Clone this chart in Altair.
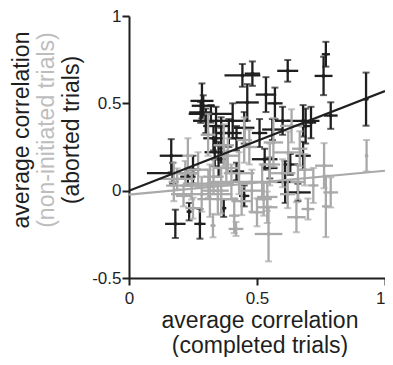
import altair as alt
import pandas as pd

# ---- data ----
black_x = [0.926, 0.788, 0.769, 0.760, 0.620, 0.443, 0.482, 0.462, 0.535, 0.570,
           0.285, 0.290, 0.280, 0.340, 0.320, 0.165, 0.181, 0.277, 0.170, 0.230,
           0.335, 0.330, 0.405, 0.510, 0.680, 0.690, 0.711, 0.680, 0.530, 0.610,
           0.660, 0.450, 0.370, 0.235, 0.360, 0.390, 0.450, 0.550, 0.420,
           0.300, 0.360, 0.420, 0.560, 0.600, 0.250, 0.350, 0.630]
black_y = [0.524, 0.430, 0.781, 0.657, 0.686, 0.660, 0.670, 0.505, 0.550, 0.500,
           0.514, 0.486, 0.448, 0.370, 0.440, 0.200, -0.190, -0.190, 0.100, 0.080,
           0.220, 0.300, 0.400, 0.330, 0.400, 0.370, 0.390, 0.200, 0.180, 0.050,
           -0.010, -0.030, -0.100, -0.120, 0.260, 0.330, 0.360, 0.130, 0.110,
           0.400, 0.330, 0.300, 0.350, 0.400, 0.120, 0.180, 0.150]
black_xerr = [0.010, 0.027, 0.016, 0.035, 0.041, 0.070, 0.030, 0.045, 0.040, 0.030,
              0.045, 0.045, 0.045, 0.050, 0.087, 0.045, 0.040, 0.022, 0.100, 0.030,
              0.040, 0.040, 0.060, 0.030, 0.064, 0.025, 0.020, 0.030, 0.050, 0.040,
              0.050, 0.020, 0.010, 0.010, 0.030, 0.050, 0.040, 0.030, 0.030,
              0.050, 0.020, 0.030, 0.040, 0.030, 0.030, 0.030, 0.030]
black_yerr = [0.152, 0.076, 0.071, 0.110, 0.062, 0.065, 0.070, 0.105, 0.100, 0.090,
              0.100, 0.060, 0.060, 0.110, 0.050, 0.095, 0.081, 0.085, 0.060, 0.050,
              0.080, 0.070, 0.100, 0.080, 0.090, 0.100, 0.090, 0.080, 0.060, 0.120,
              0.050, 0.060, 0.050, 0.050, 0.100, 0.080, 0.090, 0.060, 0.050,
              0.070, 0.090, 0.070, 0.060, 0.080, 0.080, 0.100, 0.060]

gray_x = [0.928, 0.762, 0.788, 0.769, 0.699, 0.654, 0.545, 0.418, 0.328, 0.635,
          0.564, 0.622, 0.450, 0.470, 0.309, 0.386, 0.188, 0.245, 0.284, 0.347,
          0.175, 0.526, 0.500, 0.411, 0.360, 0.316, 0.520, 0.540, 0.540, 0.720,
          0.686, 0.667, 0.250, 0.213, 0.430, 0.600, 0.270, 0.380, 0.480, 0.620,
          0.220, 0.330, 0.400, 0.310, 0.550, 0.440, 0.660, 0.230, 0.370]
gray_y = [0.200, 0.143, -0.010, -0.090, -0.105, -0.152, -0.248, -0.219, -0.200, 0.371,
          0.276, 0.219, 0.290, 0.250, 0.320, 0.200, 0.067, 0.029, -0.020, -0.048,
          0.050, -0.048, -0.124, -0.143, 0.000, 0.000, 0.050, -0.036, -0.095, 0.030,
          0.120, 0.240, -0.100, -0.030, 0.100, 0.100, 0.120, 0.130, 0.000, -0.020,
          0.100, 0.080, 0.050, 0.040, 0.150, -0.060, 0.050, 0.200, 0.260]
gray_xerr = [0.005, 0.035, 0.029, 0.015, 0.025, 0.036, 0.054, 0.029, 0.010, 0.045,
             0.038, 0.057, 0.030, 0.030, 0.029, 0.040, 0.070, 0.100, 0.120, 0.080,
             0.020, 0.032, 0.030, 0.020, 0.030, 0.030, 0.060, 0.040, 0.040, 0.020,
             0.030, 0.030, 0.030, 0.030, 0.060, 0.050, 0.040, 0.050, 0.050, 0.030,
             0.050, 0.040, 0.080, 0.100, 0.040, 0.040, 0.030, 0.020, 0.040]
gray_yerr = [0.090, 0.129, 0.086, 0.176, 0.060, 0.086, 0.157, 0.040, 0.067, 0.095,
             0.140, 0.120, 0.130, 0.100, 0.120, 0.100, 0.060, 0.080, 0.100, 0.090,
             0.110, 0.095, 0.080, 0.100, 0.130, 0.150, 0.100, 0.080, 0.090, 0.100,
             0.090, 0.100, 0.060, 0.060, 0.120, 0.080, 0.100, 0.100, 0.120, 0.080,
             0.070, 0.100, 0.100, 0.080, 0.120, 0.080, 0.100, 0.100, 0.120]

fit_x = [0.0, 1.0]
black_fit = [0.0, 0.57]
gray_fit = [-0.023, 0.114]

x_ticks = [0, 0.5, 1]
y_ticks = [-0.5, 0, 0.5, 1]
y_title_lines = ["average correlation", "(non-initiated trials)", "(aborted trials)"]
x_title_lines = ["average correlation", "(completed trials)"]

INK = "#1f1f1f"
GRAY = "#a9a9a9"
TITLE_GRAY = "#bdbdbd"
FONT = "Liberation Sans"


def frame(xs, ys, xe, ye):
    return pd.DataFrame({
        "x": xs, "y": ys,
        "xlo": [a - b for a, b in zip(xs, xe)],
        "xhi": [a + b for a, b in zip(xs, xe)],
        "ylo": [a - b for a, b in zip(ys, ye)],
        "yhi": [a + b for a, b in zip(ys, ye)],
    })


xscale = alt.Scale(domain=[0, 1], nice=False, zero=False)
yscale = alt.Scale(domain=[-0.5, 1], nice=False, zero=False)
common_axis = dict(title=None, grid=False, domainColor=INK, domainWidth=2,
                   tickColor=INK, tickWidth=2, tickSize=7, labelFontSize=17,
                   labelColor=INK, labelFont=FONT, labelExpr="toString(datum.value)",
                   labelFlush=False, labelOverlap=False)
xaxis = alt.Axis(values=x_ticks, labelPadding=5,
                 labelAlign={"condition": {"test": "datum.value == 1", "value": "right"},
                             "value": "center"},
                 **common_axis)
yaxis = alt.Axis(values=y_ticks, labelPadding=1, **common_axis)


def X(f):
    return alt.X(f, type="quantitative", scale=xscale, axis=xaxis)


def Y(f):
    return alt.Y(f, type="quantitative", scale=yscale, axis=yaxis)


def crosses(df, color):
    base = alt.Chart(df)
    h = base.mark_rule(color=color, strokeWidth=2.3).encode(x=X("xlo"), x2="xhi", y=Y("y"))
    v = base.mark_rule(color=color, strokeWidth=2.3).encode(x=X("x"), y=Y("ylo"), y2="yhi")
    lo = base.mark_tick(color=color, orient="horizontal", size=7, thickness=2).encode(x=X("x"), y=Y("ylo"))
    hi = base.mark_tick(color=color, orient="horizontal", size=7, thickness=2).encode(x=X("x"), y=Y("yhi"))
    dot = base.mark_circle(color=color, size=14, opacity=1).encode(x=X("x"), y=Y("y"))
    return [h, v, lo, hi, dot]


black_df = frame(black_x, black_y, black_xerr, black_yerr)
gray_df = frame(gray_x, gray_y, gray_xerr, gray_yerr)

fit_black = alt.Chart(pd.DataFrame({"x": fit_x, "y": black_fit})).mark_line(
    color=INK, strokeWidth=2.2).encode(x=X("x"), y=Y("y"))
fit_gray = alt.Chart(pd.DataFrame({"x": fit_x, "y": gray_fit})).mark_line(
    color=GRAY, strokeWidth=2.2).encode(x=X("x"), y=Y("y"))

layers = crosses(black_df, INK) + crosses(gray_df, GRAY) + [fit_gray, fit_black]

# y-axis title: three rotated lines, middle one in light grey
for text, color, xpos in zip(y_title_lines, [INK, TITLE_GRAY, INK], [-107, -82, -57]):
    layers.append(
        alt.Chart(pd.DataFrame({"t": [text]})).mark_text(
            angle=270, fontSize=23, font=FONT, color=color, align="center", baseline="middle"
        ).encode(x=alt.value(xpos), y=alt.value(114), text="t:N")
    )

# x-axis title: two lines
for text, ypos in zip(x_title_lines, [312, 337]):
    layers.append(
        alt.Chart(pd.DataFrame({"t": [text]})).mark_text(
            fontSize=23, font=FONT, color=INK, align="center", baseline="alphabetic"
        ).encode(x=alt.value(131), y=alt.value(ypos), text="t:N")
    )

chart = alt.layer(*layers).properties(
    width=256, height=262,
    autosize=alt.AutoSizeParams(type="none"),
    padding={"left": 121, "top": 8, "right": 0, "bottom": 79},
).configure_view(stroke=None)

chart.save("out.html", embed_options={"renderer": "svg", "actions": False})
